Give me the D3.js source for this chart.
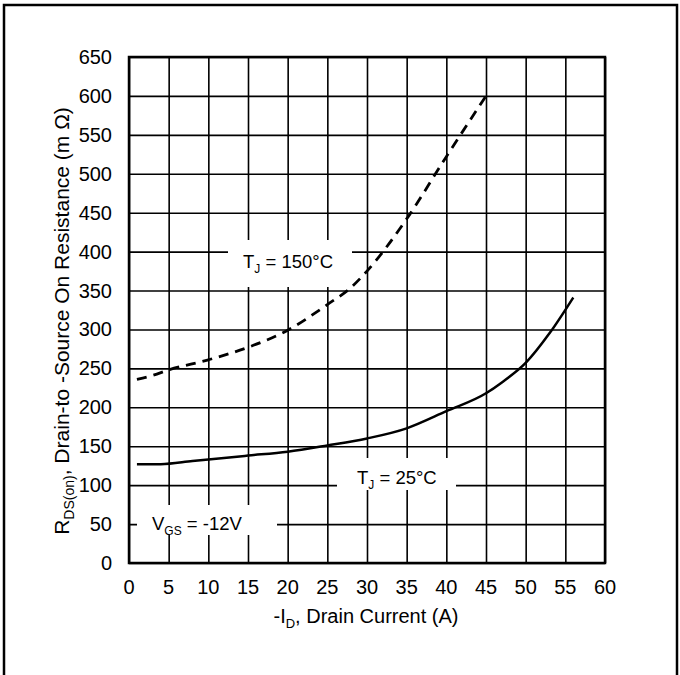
<!DOCTYPE html>
<html>
<head>
<meta charset="utf-8">
<script src="https://cdn.jsdelivr.net/npm/d3@7"></script>
<style>
  html, body { margin: 0; padding: 0; background: #fff; }
  svg text { font-family: "Liberation Sans", Arial, sans-serif; fill: #000; }
</style>
</head>
<body>
<svg id="chart" width="680" height="675"></svg>
<script>
// ---- data ----
const xTicks = [0, 5, 10, 15, 20, 25, 30, 35, 40, 45, 50, 55, 60];
const yTicks = [0, 50, 100, 150, 200, 250, 300, 350, 400, 450, 500, 550, 600, 650];
const current25 = [1, 4, 8, 10, 15, 20, 25, 30, 35, 40, 45, 47, 50, 53, 56];
const rds25     = [127, 127, 131, 133, 138, 143, 151, 160, 173, 195, 218, 232, 257, 295, 341];
const current150 = [1, 3, 5, 10, 15, 20, 25, 28, 30, 35, 40, 45];
const rds150     = [236, 241, 248, 261, 277, 299, 332, 354, 375, 442, 522, 600];

const svg = d3.select("#chart");
const pL = 129, pR = 605, pT = 57, pB = 563;
const x = d3.scaleLinear().domain([0, 60]).range([pL, pR]);
const y = d3.scaleLinear().domain([0, 650]).range([pB, pT]);

// outer frame
svg.append("rect").attr("x", 4).attr("y", 5).attr("width", 673).attr("height", 690)
  .attr("fill", "none").attr("stroke", "#000").attr("stroke-width", 2.5);

// grid via axes
const gx = svg.append("g").attr("transform", `translate(0,${pB})`)
  .call(d3.axisBottom(x).tickValues(xTicks).tickSize(-(pB - pT)).tickFormat(""));
const gy = svg.append("g").attr("transform", `translate(${pL},0)`)
  .call(d3.axisLeft(y).tickValues(yTicks).tickSize(-(pR - pL)).tickFormat(""));
[gx, gy].forEach(g => {
  g.select(".domain").remove();
  g.selectAll(".tick line").attr("stroke", "#000").attr("stroke-width", 1.6);
});

// tick labels
svg.append("g").selectAll("text").data(xTicks).join("text")
  .attr("x", d => x(d)).attr("y", 594).attr("text-anchor", "middle")
  .attr("font-size", 20).text(d => d);
svg.append("g").selectAll("text").data(yTicks).join("text")
  .attr("x", 112).attr("y", d => y(d) + 7).attr("text-anchor", "end")
  .attr("font-size", 20).text(d => d);

// label boxes (white fill over grid)
function label(bx, by, bw, bh, tx, ty, parts) {
  svg.append("rect").attr("x", bx).attr("y", by).attr("width", bw).attr("height", bh).attr("fill", "#fff");
  const t = svg.append("text").attr("x", tx).attr("y", ty).attr("font-size", 18.5);
  parts.forEach(p => {
    const s = t.append("tspan").text(p.t);
    if (p.sub) s.attr("font-size", 12).attr("dy", 5);
    if (p.up) s.attr("dy", -5);
  });
}
label(228, 240, 124, 47, 243, 268, [{t: "T"}, {t: "J", sub: true}, {t: " = 150°C", up: true}]);
label(337, 458, 119, 32, 357, 484, [{t: "T"}, {t: "J", sub: true}, {t: " = 25°C", up: true}]);
label(137, 505, 140, 30, 152, 530, [{t: "V"}, {t: "GS", sub: true}, {t: " = -12V", up: true}]);

// plot border
svg.append("rect").attr("x", pL).attr("y", pT).attr("width", pR - pL).attr("height", pB - pT)
  .attr("fill", "none").attr("stroke", "#000").attr("stroke-width", 2.5);

// curves
const line = d3.line().x(d => x(d[0])).y(d => y(d[1])).curve(d3.curveMonotoneX);
svg.append("path").datum(d3.zip(current25, rds25)).attr("d", line)
  .attr("fill", "none").attr("stroke", "#000").attr("stroke-width", 2.5);
svg.append("path").datum(d3.zip(current150, rds150)).attr("d", line)
  .attr("fill", "none").attr("stroke", "#000").attr("stroke-width", 2.8)
  .attr("stroke-dasharray", "10,7");

// axis titles
const xt = svg.append("text").attr("x", 366).attr("y", 623).attr("text-anchor", "middle").attr("font-size", 20);
xt.append("tspan").text("-I");
xt.append("tspan").text("D").attr("font-size", 13).attr("dy", 5);
xt.append("tspan").text(", Drain Current (A)").attr("dy", -5);

const yt = svg.append("text").attr("transform", "translate(69,321) rotate(-90)")
  .attr("text-anchor", "middle").attr("font-size", 21);
yt.append("tspan").text("R");
yt.append("tspan").text("DS(on)").attr("font-size", 14).attr("dy", 5);
yt.append("tspan").text(", Drain-to -Source On Resistance (m Ω)").attr("dy", -5);
</script>
</body>
</html>
